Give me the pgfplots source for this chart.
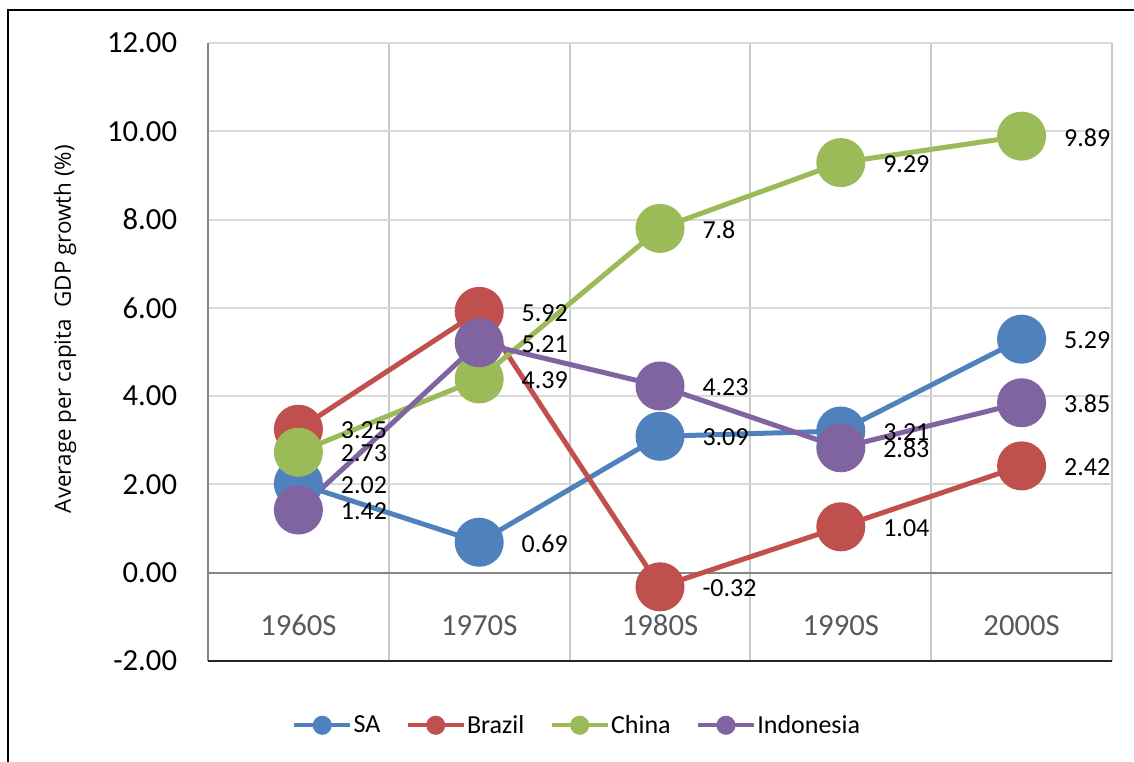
\documentclass[border=0pt]{standalone}
\usepackage{fontspec}
\setmainfont{Carlito}
\newfontfamily\titlefont{Open Sans}
\usepackage{pgfplots}
\pgfplotsset{compat=1.18}

\definecolor{saBlue}{HTML}{4F81BD}
\definecolor{brRed}{HTML}{C0504D}
\definecolor{cnGreen}{HTML}{9BBB59}
\definecolor{idPurple}{HTML}{8064A2}
\definecolor{gridGray}{HTML}{D9D9D9}
\definecolor{vgridGray}{HTML}{C8C8C8}
\definecolor{axisGray}{HTML}{868686}
\definecolor{catGray}{HTML}{595959}

\pgfplotsset{
  series/.style={color=#1, line width=3.75pt, mark=*, mark size=16.5pt,
    mark options={draw=none, fill=#1}},
}

\begin{document}
\begin{tikzpicture}[x=0.75pt, y=0.75pt]
  % page area and outer frame (units: px)
  \useasboundingbox (-208,-101) rectangle (926,661);
  \fill[white] (-208,-101) rectangle (926,661);
  \draw[black, line width=2pt] (-200,-200) rectangle (1000,651);

  \begin{axis}[
    at={(0,0)}, anchor=south west,
    scale only axis,
    width=678pt, height=463.5pt,
    xmin=-0.5, xmax=4.5,
    ymin=-2, ymax=12,
    ytick={-2,0,...,12},
    xtick={0,...,4},
    xticklabels={},
    minor xtick={-0.5,0.5,...,4.5},
    xminorgrids=true,
    ymajorgrids=true,
    major grid style={gridGray, line width=1.5pt},
    minor grid style={vgridGray, line width=1.5pt},
    axis line style={draw=none},
    major tick length=0pt, minor tick length=0pt,
    /pgf/number format/assume math mode=true,
    yticklabel style={/pgf/number format/.cd, fixed, fixed zerofill, precision=2,
      /tikz/.cd, anchor=east, inner sep=0pt, xshift=-23pt,
      font=\fontsize{23}{26}\selectfont, text=black},
    clip=false,
    point meta=explicit symbolic,
    nodes near coords,
    every node near coord/.append style={anchor=west, inner sep=0pt,
      xshift=30pt, yshift=-1pt, text=black,
      font=\fontsize{19.5}{22}\selectfont},
    legend columns=4,
    legend style={at={(0.408,-0.104)}, anchor=center, draw=none, fill=none,
      font=\fontsize{19.5}{22}\selectfont,
      /tikz/every even column/.append style={column sep=18pt},
      nodes={inner xsep=1pt}},
    legend image code/.code={
      \draw[line width=3pt] (0pt,0pt) -- (42pt,0pt);
      \fill (21pt,0pt) circle (5.25pt);
    },
  ]
    % axis lines
    \draw[axisGray, line width=1.5pt] (rel axis cs:0,0) -- (rel axis cs:0,1);
    \draw[axisGray, line width=1.5pt] (axis cs:-0.5,0) -- (axis cs:4.5,0);
    \draw[black!85, line width=2pt] (rel axis cs:0,0) -- (rel axis cs:1,0);

    % decades
    \node[text=catGray, font=\fontsize{23}{26}\selectfont] at (axis cs:0,-1.19) {1960S};
    \node[text=catGray, font=\fontsize{23}{26}\selectfont] at (axis cs:1,-1.19) {1970S};
    \node[text=catGray, font=\fontsize{23}{26}\selectfont] at (axis cs:2,-1.19) {1980S};
    \node[text=catGray, font=\fontsize{23}{26}\selectfont] at (axis cs:3,-1.19) {1990S};
    \node[text=catGray, font=\fontsize{23}{26}\selectfont] at (axis cs:4,-1.19) {2000S};

    \addplot[series=saBlue] coordinates {
      (0,2.02) [2.02] (1,0.69) [0.69] (2,3.09) [3.09] (3,3.21) [3.21] (4,5.29) [5.29]};
    \addplot[series=brRed] coordinates {
      (0,3.25) [3.25] (1,5.92) [5.92] (2,-0.32) [-0.32] (3,1.04) [1.04] (4,2.42) [2.42]};
    \addplot[series=cnGreen] coordinates {
      (0,2.73) [2.73] (1,4.39) [4.39] (2,7.8) [7.8] (3,9.29) [9.29] (4,9.89) [9.89]};
    \addplot[series=idPurple] coordinates {
      (0,1.42) [1.42] (1,5.21) [5.21] (2,4.23) [4.23] (3,2.83) [2.83] (4,3.85) [3.85]};
    \legend{SA, Brazil, China, Indonesia}
  \end{axis}

  \node[rotate=90, font=\titlefont\fontsize{16.8}{20}\selectfont] at (-143,332)
    {Average per capita\ \ GDP growth (\%)};
\end{tikzpicture}
\end{document}
